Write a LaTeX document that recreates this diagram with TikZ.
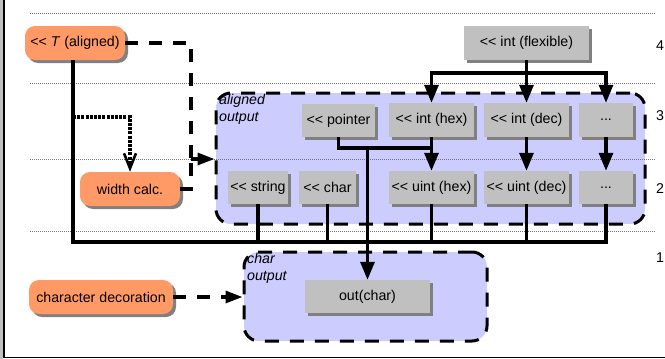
\documentclass[tikz,border=0pt]{standalone}
\usepackage{fontspec}
\setmainfont{Liberation Sans}
\usetikzlibrary{arrows.meta,shadows}
\definecolor{opgray}{RGB}{192,192,192}
\definecolor{shadowgray}{RGB}{128,128,128}
\definecolor{decor}{RGB}{255,153,102}
\definecolor{grpblue}{RGB}{204,204,255}
\newcommand{\shl}{<\kern0pt<}

\begin{document}
\begin{tikzpicture}[x=1pt,y=-1pt]
      %boxes, groups and connectors
      \tikzset{
      txt/.style={font=\fontsize{14.2}{17}\selectfont},
      op/.style={txt, fill=opgray, inner sep=0pt,
        drop shadow={shadow xshift=3pt, shadow yshift=-3pt, fill=shadowgray, opacity=1}},
      deco/.style={op, fill=decor, rounded corners=10pt},
      grp/.style={fill=grpblue, draw=black, line width=3pt,
        dash pattern=on 14pt off 11pt, rounded corners=15pt, inner sep=0pt},
      grplabel/.style={font=\fontsize{14.2}{17}\selectfont\itshape, align=left,
        anchor=north west, inner sep=0pt},
      lane/.style={draw=black!55, line width=0.8pt, dash pattern=on 1pt off 1pt},
      conn/.style={line width=3.2pt},
      arr/.style={conn, -{Triangle[length=18pt,width=14pt]}},
      dashconn/.style={conn, dash pattern=on 13pt off 11pt},
      dasharr/.style={dashconn, -{Triangle[length=17pt,width=12pt]}},
      dotarr/.style={conn, dash pattern=on 3pt off 1.2pt,
        -{Straight Barb[length=15pt,width=12pt,line width=2.6pt]}},
      }
      \useasboundingbox (0,0) rectangle (665,359);

      %frame
      \fill[black!25] (0,0) rectangle (3,359);
      \draw[line width=1.5pt] (4,0) -- (4,357.5) -- (665,357.5);

      %groups
      \node[grp, minimum width=429, minimum height=131] (grpal) at (430.5,158.5) {};
      \node[grp, minimum width=243, minimum height=89] (grpch) at (365.5,296.5) {};
      \node[grplabel] (grpaltxt) at (219,94) {aligned\\output};
      \node[grplabel] (grpchtxt) at (247,253) {char\\output};

      %lanes
      \foreach \y in {13,83,159,231}
        \draw[lane] (30,\y) -- (655,\y);
      \node[txt] (lane4) at (660,46) {4};
      \node[txt] (lane3) at (660,116) {3};
      \node[txt] (lane2) at (660,189) {2};
      \node[txt] (lane1) at (660,258) {1};

      %decorators
      \node[deco, minimum width=100, minimum height=34] (taligned) at (75,43) {\shl{} \textit{T} (aligned)};
      \node[deco, minimum width=100, minimum height=34] (widthcalc) at (130,189) {width calc.};
      \node[deco, minimum width=144, minimum height=34] (chardeco) at (101,297) {character decoration};

      %operators
      \node[op, minimum width=125, minimum height=34] (intflex) at (526.5,43) {\shl{} int (flexible)};
      \node[op, minimum width=73, minimum height=33] (pointer) at (338.5,120.5) {\shl{} pointer};
      \node[op, minimum width=85, minimum height=34] (inthex) at (431.5,120) {\shl{} int (hex)};
      \node[op, minimum width=85, minimum height=34] (intdec) at (526.5,120) {\shl{} int (dec)};
      \node[op, minimum width=54, minimum height=34] (dotsa) at (606,120) {...};
      \node[op, minimum width=60, minimum height=33] (string) at (258,187.5) {\shl{} string};
      \node[op, minimum width=57, minimum height=33] (char) at (327.5,187.5) {\shl{} char};
      \node[op, minimum width=85, minimum height=33] (uinthex) at (431.5,187.5) {\shl{} uint (hex)};
      \node[op, minimum width=85, minimum height=33] (uintdec) at (526.5,187.5) {\shl{} uint (dec)};
      \node[op, minimum width=54, minimum height=33] (dotsb) at (606,187.5) {...};
      \node[op, minimum width=125, minimum height=33] (outchar) at (367.5,296.5) {out(char)};

      %junctions
      \coordinate (jd) at (191,159);
      \coordinate (jw) at (73,117);
      \coordinate (fork) at (526.5,73);
      \coordinate (pjoin) at (367.5,148);
      \coordinate (bus) at (73,242);

      %decorations into the groups
      \draw[dashconn] (taligned.east) -| (jd);
      \draw[dashconn] (widthcalc.east) -| (jd);
      \draw[dasharr] (jd) -- (jd -| grpal.west);
      \draw[dotarr] (jw) -| (widthcalc.north);
      \draw[dasharr] (chardeco.east) -- (grpch.west |- chardeco.east);

      %flexible int
      \draw[arr] (intflex.south) -- (intdec.north);
      \draw[arr] (fork) -| (inthex.north);
      \draw[arr] (fork) -| (dotsa.north);
      \foreach \a/\b in {inthex/uinthex,intdec/uintdec,dotsa/dotsb}
        \draw[arr] (\a.south) -- (\b.north);

      %to char output
      \draw[conn] (taligned.south -| bus) |- (dotsb.south |- bus) -- (dotsb.south);
      \foreach \n in {string,char,uinthex,uintdec}
        \draw[conn] (\n.south) -- (\n.south |- bus);
      \draw[conn] (pointer.south) |- (pjoin) -- (inthex.south |- pjoin);
      \draw[arr] (pjoin) -- (outchar.north);
\end{tikzpicture}
\end{document}
